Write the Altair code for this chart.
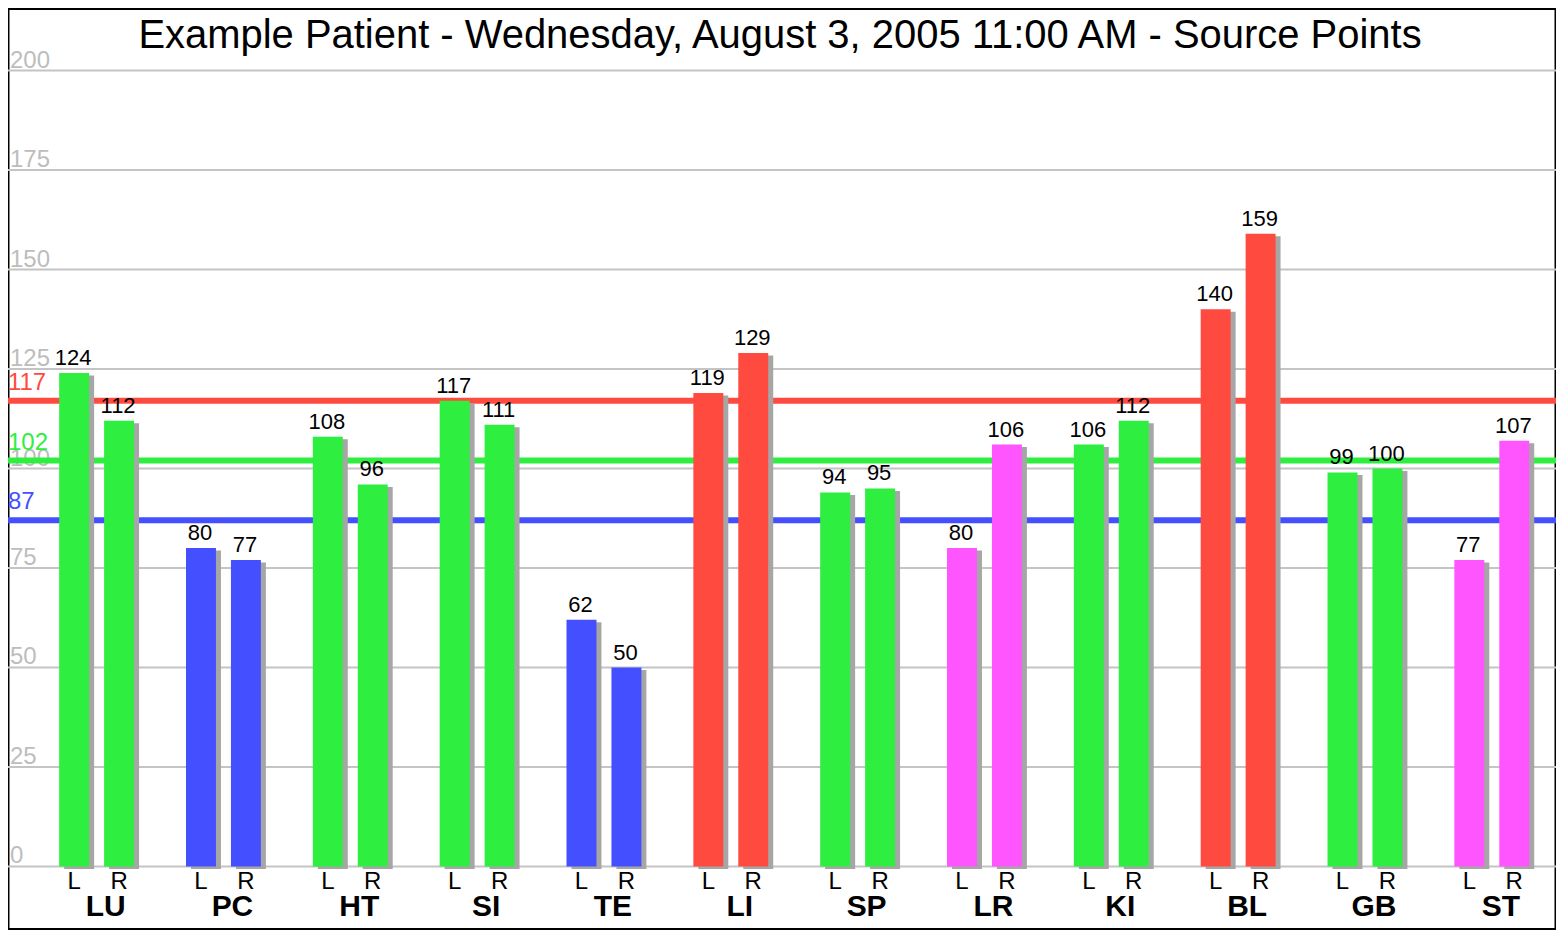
import altair as alt
import pandas as pd

# ---- data ----
groups = ["LU", "PC", "HT", "SI", "TE", "LI", "SP", "LR", "KI", "BL", "GB", "ST"]
left_values = [124, 80, 108, 117, 62, 119, 94, 80, 106, 140, 99, 77]
right_values = [112, 77, 96, 111, 50, 129, 95, 106, 112, 159, 100, 107]
group_status = ["normal", "low", "normal", "normal", "low", "high",
                "normal", "split", "normal", "high", "normal", "split"]
sides = ["L", "R"]
threshold_values = [117, 102, 87]
threshold_status = ["high", "normal", "low"]
y_ticks = [0, 25, 50, 75, 100, 125, 150, 175, 200]
title_text = "Example Patient - Wednesday, August 3, 2005 11:00 AM - Source Points"
status_names = ["normal", "low", "high", "split"]
status_colors = ["#2eee40", "#4450ff", "#ff4a40", "#ff55ff"]

rows = []
for g, lv, rv, s in zip(groups, left_values, right_values, group_status):
    rows.append({"group": g, "side": "L", "value": lv, "status": s})
    rows.append({"group": g, "side": "R", "value": rv, "status": s})
bars_df = pd.DataFrame(rows)
groups_df = pd.DataFrame({"group": groups})
thr_df = pd.DataFrame({"value": threshold_values, "status": threshold_status})
ticks_df = pd.DataFrame({"value": y_ticks})
title_df = pd.DataFrame({"t": [title_text]})

FONT = "Liberation Sans"
W, H = 1550, 922

y_scale = alt.Scale(domain=[-15.81, 215.56], nice=False, zero=False)
x_scale = alt.Scale(type="band", paddingInner=0, paddingOuter=0.1024, align=0.97)
xo_scale = alt.Scale(type="band", domain=sides, paddingInner=1 / 3, paddingOuter=0.578)
shadow_xo_scale = alt.Scale(type="band", domain=sides, paddingInner=1 / 3,
                            paddingOuter=0.578, align=0.596)
color_scale = alt.Scale(domain=status_names, range=status_colors)

X = alt.X("group:N", sort=groups, scale=x_scale, axis=None)
Y = alt.Y("value:Q", scale=y_scale, axis=None)
COLOR = alt.Color("status:N", scale=color_scale, legend=None)

grid = alt.Chart(ticks_df).mark_rule(color="#c4c4c4", strokeWidth=2).encode(y=Y)

grid_labels = alt.Chart(ticks_df).mark_text(
    font=FONT, fontSize=24, align="left", baseline="alphabetic", dy=-3, color="#bdbdbd"
).encode(x=alt.value(2), y=Y, text="value:Q")

rules = alt.Chart(thr_df).mark_rule(strokeWidth=6).encode(y=Y, color=COLOR)

rule_labels = alt.Chart(thr_df).mark_text(
    font=FONT, fontSize=24, align="left", baseline="alphabetic", dy=-11
).encode(x=alt.value(0), y=Y, text="value:Q", color=COLOR)

shadow = alt.Chart(bars_df).mark_bar(color="#a6a6a6", yOffset=2.5).encode(
    x=X,
    xOffset=alt.XOffset("side:N", scale=shadow_xo_scale),
    y=Y,
)

bars = alt.Chart(bars_df).mark_bar().encode(
    x=X,
    xOffset=alt.XOffset("side:N", scale=xo_scale),
    y=Y,
    color=COLOR,
)

value_labels = alt.Chart(bars_df).mark_text(
    font=FONT, fontSize=22, baseline="alphabetic", dy=-8, dx=-1, color="black"
).encode(
    x=X,
    xOffset=alt.XOffset("side:N", scale=xo_scale),
    y=Y,
    text="value:Q",
)

side_labels = alt.Chart(bars_df).mark_text(
    font=FONT, fontSize=24, baseline="alphabetic", color="black"
).encode(
    x=X,
    xOffset=alt.XOffset("side:N", scale=xo_scale),
    y=alt.value(882),
    text="side:N",
)

group_labels = alt.Chart(groups_df).mark_text(
    font=FONT, fontSize=30, fontWeight="bold", baseline="alphabetic", dx=9, color="black"
).encode(x=X, y=alt.value(909), text="group:N")

title = alt.Chart(title_df).mark_text(
    font=FONT, fontSize=40, baseline="alphabetic", align="center", color="black"
).encode(x=alt.value(773), y=alt.value(39), text="t:N")

chart = (
    alt.layer(grid, grid_labels, rules, rule_labels, shadow, bars,
              value_labels, side_labels, group_labels, title)
    .resolve_scale(xOffset="independent")
    .properties(width=W, height=H, padding=0, autosize=alt.AutoSizeParams(type="none"))
    .configure_view(stroke="black", strokeWidth=3, fill="white")
)

chart.save("out.html", embed_options={"renderer": "svg", "actions": False})
